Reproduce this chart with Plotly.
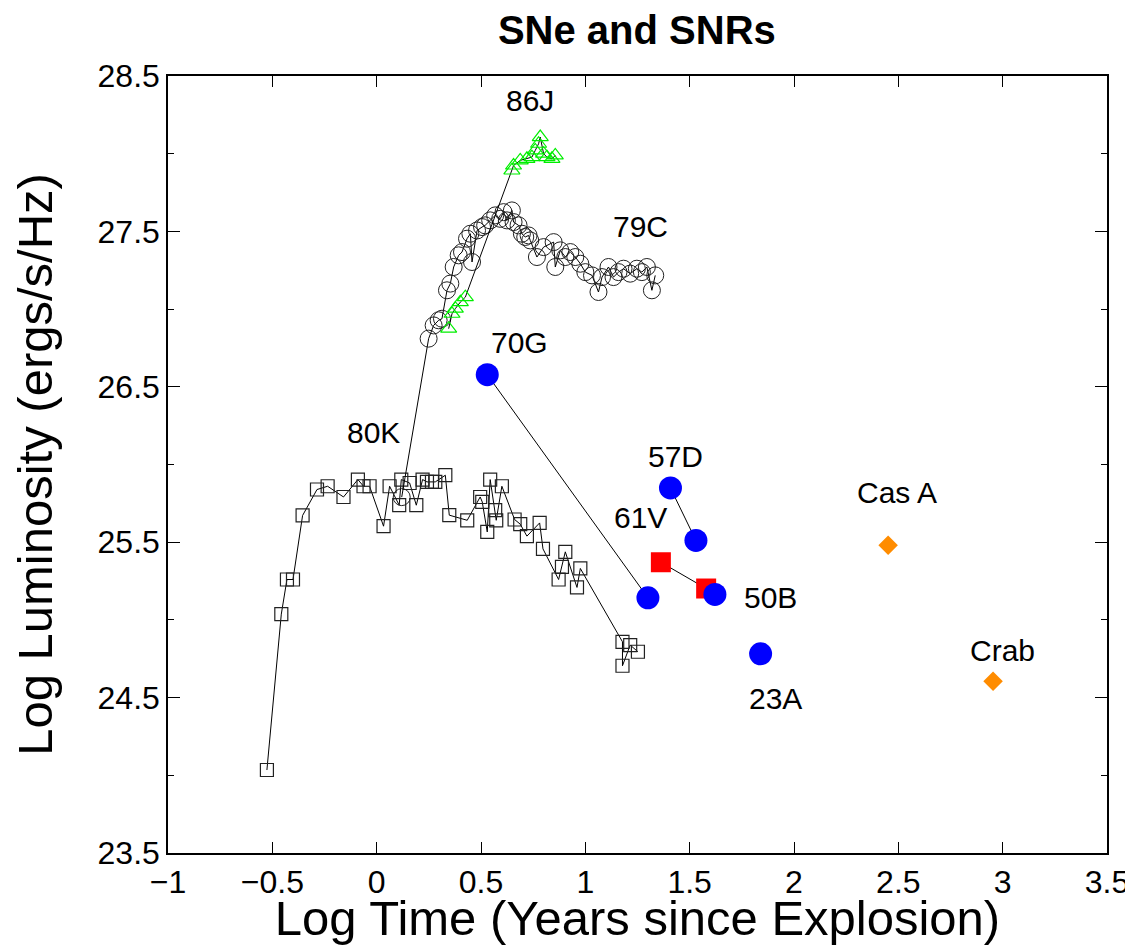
import plotly.graph_objects as go

# ---- data ----
sn80k_x = [-0.526, -0.457, -0.430, -0.401, -0.355, -0.286, -0.235, -0.159, -0.090, -0.063,
           -0.034, 0.033, 0.062, 0.108, 0.118, 0.158, 0.190, 0.220, 0.241, 0.265,
           0.281, 0.329, 0.348, 0.434, 0.496, 0.506, 0.530, 0.544, 0.568, 0.573,
           0.600, 0.661, 0.688, 0.720, 0.781, 0.797, 0.872, 0.888, 0.904, 0.960,
           0.976, 1.178, 1.178, 1.215, 1.252]
sn80k_y = [24.034, 25.037, 25.260, 25.260, 25.672, 25.839, 25.860, 25.791, 25.903, 25.860,
           25.860, 25.603, 25.860, 25.738, 25.903, 25.881, 25.738, 25.903, 25.888, 25.888,
           25.888, 25.931, 25.674, 25.641, 25.791, 25.759, 25.566, 25.903, 25.706, 25.641,
           25.860, 25.646, 25.616, 25.539, 25.624, 25.457, 25.260, 25.341, 25.438, 25.209,
           25.331, 24.859, 24.705, 24.838, 24.795]

sn79c_x = [0.120, 0.249, 0.273, 0.297, 0.313, 0.337, 0.353, 0.369, 0.393, 0.409,
           0.433, 0.449, 0.457, 0.481, 0.505, 0.520, 0.544, 0.568, 0.592, 0.608,
           0.624, 0.648, 0.656, 0.680, 0.696, 0.712, 0.728, 0.736, 0.768, 0.800,
           0.848, 0.856, 0.880, 0.904, 0.928, 0.952, 0.976, 1.000, 1.032, 1.063,
           1.080, 1.111, 1.135, 1.159, 1.183, 1.215, 1.247, 1.271, 1.295, 1.319,
           1.335]
sn79c_y = [25.790, 26.810, 26.895, 26.928, 26.938, 27.121, 27.164, 27.271, 27.346, 27.367,
           27.453, 27.485, 27.303, 27.506, 27.528, 27.539, 27.571, 27.603, 27.581, 27.624,
           27.571, 27.635, 27.560, 27.539, 27.485, 27.464, 27.474, 27.442, 27.335, 27.399,
           27.431, 27.271, 27.378, 27.335, 27.367, 27.335, 27.292, 27.238, 27.217, 27.110,
           27.206, 27.271, 27.206, 27.238, 27.260, 27.228, 27.260, 27.238, 27.271, 27.121,
           27.217]

sn86j_x = [0.345, 0.361, 0.377, 0.401, 0.425, 0.648, 0.656, 0.688, 0.720, 0.744,
           0.760, 0.776, 0.784, 0.800, 0.816, 0.840, 0.856]
sn86j_y = [26.874, 26.970, 27.003, 27.045, 27.077, 27.892, 27.924, 27.957, 27.967, 27.978,
           28.021, 28.064, 28.107, 28.000, 27.978, 27.967, 27.989]

sn70g_x = [0.530, 1.300]
sn70g_y = [26.578, 25.142]
sn57d_x = [1.408, 1.530]
sn57d_y = [25.849, 25.511]
sn61v_x = [1.362, 1.579]
sn61v_y = [25.371, 25.202]
single_x = [1.621, 1.840]   # 50B, 23A
single_y = [25.164, 24.782]
snr_x = [2.451, 2.954]      # Cas A, Crab
snr_y = [25.481, 24.606]

label_text = ["86J", "79C", "70G", "80K", "57D", "61V", "50B", "23A", "Cas A", "Crab"]
label_x = [0.736, 1.263, 0.683, -0.016, 1.431, 1.263, 1.886, 1.910, 2.495, 2.998]
label_y = [28.342, 27.532, 26.786, 26.207, 26.053, 25.661, 25.146, 24.497, 25.822, 24.805]

x_ticks = [-1, -0.5, 0, 0.5, 1, 1.5, 2, 2.5, 3, 3.5]
y_ticks = [23.5, 24.5, 25.5, 26.5, 27.5, 28.5]

FONT = "Liberation Sans, Arial, Helvetica, sans-serif"

fig = go.Figure()

fig.add_trace(go.Scatter(x=sn80k_x, y=sn80k_y, mode="lines+markers",
                         line=dict(color="black", width=1),
                         marker=dict(symbol="square-open", size=13, color="#222222",
                                     line=dict(width=1.2))))
fig.add_trace(go.Scatter(x=sn79c_x, y=sn79c_y, mode="lines+markers",
                         line=dict(color="black", width=1),
                         marker=dict(symbol="circle-open", size=17, color="#222222",
                                     line=dict(width=1))))
fig.add_trace(go.Scatter(x=sn86j_x, y=sn86j_y, mode="lines",
                         line=dict(color="black", width=1)))
fig.add_trace(go.Scatter(x=sn86j_x, y=sn86j_y, mode="markers",
                         marker=dict(symbol="triangle-up-open", size=14, color="#00ee00",
                                     line=dict(width=1.2))))
for xs, ys in [(sn70g_x, sn70g_y), (sn57d_x, sn57d_y)]:
    fig.add_trace(go.Scatter(x=xs, y=ys, mode="lines+markers",
                             line=dict(color="black", width=1),
                             marker=dict(symbol="circle", size=23, color="#0000ff")))
fig.add_trace(go.Scatter(x=sn61v_x, y=sn61v_y, mode="lines+markers",
                         line=dict(color="black", width=1),
                         marker=dict(symbol="square", size=20, color="#ff0000")))
fig.add_trace(go.Scatter(x=single_x, y=single_y, mode="markers",
                         marker=dict(symbol="circle", size=23, color="#0000ff")))
fig.add_trace(go.Scatter(x=snr_x, y=snr_y, mode="markers",
                         marker=dict(symbol="diamond", size=15, color="#ff8c00")))

for t, lx, ly in zip(label_text, label_x, label_y):
    fig.add_annotation(x=lx, y=ly, text=t, showarrow=False,
                       font=dict(family=FONT, size=30, color="black"))

axis_common = dict(showline=True, linecolor="black", linewidth=1.5, mirror="allticks",
                   ticks="inside", tickcolor="black", tickwidth=1,
                   showgrid=False, zeroline=False, automargin=False,
                   tickfont=dict(family=FONT, size=32, color="black"))

fig.update_xaxes(range=[-1, 3.5], tickvals=x_ticks, ticklen=11,
                 title=dict(text="Log Time (Years since Explosion)",
                            font=dict(family=FONT, size=49, color="black"), standoff=7),
                 **axis_common)
fig.update_yaxes(range=[23.5, 28.5], tickvals=y_ticks, ticklen=12,
                 minor=dict(dtick=0.5, tick0=23.5, ticks="inside", ticklen=6,
                            tickcolor="black", tickwidth=1, showgrid=False),
                 title=dict(text="Log Luminosity (ergs/s/Hz)",
                            font=dict(family=FONT, size=49, color="black"), standoff=39),
                 **axis_common)

# the page has an 8px body margin, so the figure is sized to fit the window
fig.update_layout(
    width=1125, height=937,
    margin=dict(l=160, r=26, t=68, b=92),
    paper_bgcolor="white", plot_bgcolor="white",
    showlegend=False,
    title=dict(text="<b>SNe and SNRs</b>", x=0.559, xanchor="center", y=0.976, yanchor="middle",
               font=dict(family=FONT, size=40, color="black")),
)

fig.write_html("out.html")
